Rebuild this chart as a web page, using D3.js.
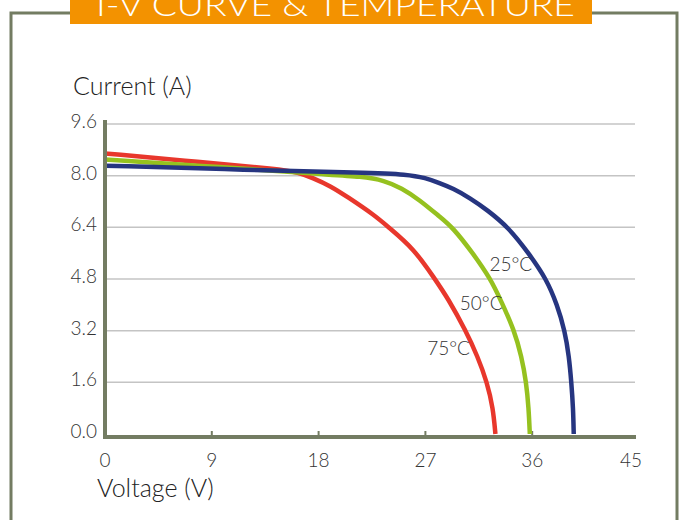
<!DOCTYPE html>
<html><head><meta charset="utf-8">
<script src="https://cdn.jsdelivr.net/npm/d3@7"></script>
<style>
html,body{margin:0;padding:0;background:#fff;}
svg{display:block;}
text{font-family:Lato,"Open Sans","DejaVu Sans",sans-serif;font-weight:300;}
</style></head><body>
<svg id="c" width="684" height="520"></svg>
<script>
const title = "I-V CURVE & TEMPERATURE";
const yTitle = "Current (A)";
const xTitle = "Voltage (V)";
const xTicks = [0, 9, 18, 27, 36, 45];
const yTicks = [0, 1.6, 3.2, 4.8, 6.4, 8.0, 9.6];
const seriesNames = ["25°C", "50°C", "75°C"];
const seriesColors = ["#263580", "#95c11f", "#e8372c"];
const curve25 = [[0,8.31],[12,8.18],[22,8.09],[25.5,8.04],[27,7.93],[28.2,7.77],[29.3,7.61],[30.8,7.3],[32.2,6.94],[34.0,6.4],[35.7,5.6],[37.2,4.8],[38.1,4.0],[38.75,3.2],[39.1,2.4],[39.3,1.6],[39.45,0.8],[39.5,0]];
const curve50 = [[0,8.5],[10,8.26],[18,8.05],[21.8,7.97],[23.5,7.85],[25,7.62],[26.5,7.25],[28.2,6.73],[29.3,6.4],[31.0,5.6],[32.5,4.8],[33.4,4.1],[34.5,3.2],[35.1,2.4],[35.5,1.6],[35.7,0.8],[35.8,0]];
const curve75 = [[0,8.69],[8,8.42],[14.7,8.2],[16.3,8.1],[17.5,7.93],[19,7.68],[20.4,7.35],[22.7,6.78],[23.9,6.4],[26.0,5.75],[27.8,4.8],[28.9,4.2],[30.4,3.2],[31.4,2.4],[32.2,1.6],[32.7,0.8],[32.9,0]];
const labelPos = [[34.2,5.05],[31.7,3.83],[28.95,2.45]];

const svg = d3.select("#c");
const x = d3.scaleLinear().domain([0,45]).range([105,639]);
const y = d3.scaleLinear().domain([0,9.6]).range([434,124]);

// frame
svg.append("rect").attr("x",11).attr("y",13).attr("width",666).attr("height",530)
  .attr("fill","none").attr("stroke","#737c62").attr("stroke-width",3);
// banner
svg.append("rect").attr("x",70).attr("y",-5).attr("width",522).attr("height",29).attr("fill","#f39200");
svg.append("text").attr("x",96).attr("y",16).attr("fill","#fff").attr("font-size",31)
  .attr("textLength",479).attr("lengthAdjust","spacingAndGlyphs").text(title);

// grid
svg.append("g").selectAll("line").data(yTicks.filter(d=>d>0)).join("line")
  .attr("x1",105).attr("x2",635).attr("y1",d=>y(d)).attr("y2",d=>y(d))
  .attr("stroke","#c4c4c4").attr("stroke-width",1.5);

// y tick labels
svg.append("g").selectAll("text").data(yTicks).join("text")
  .attr("x",97).attr("y",d=>y(d)).attr("dy",4).attr("text-anchor","end")
  .attr("font-size",19).attr("fill","#333").text(d=>d.toFixed(1));

// x ticks
svg.append("g").selectAll("line").data(xTicks.filter(d=>d>0&&d<45)).join("line")
  .attr("x1",d=>x(d)).attr("x2",d=>x(d)).attr("y1",431).attr("y2",437)
  .attr("stroke","#737c62").attr("stroke-width",2);
svg.append("g").selectAll("text").data(xTicks).join("text")
  .attr("x",d=>d===45?x(d)-8:x(d)).attr("y",467).attr("text-anchor","middle")
  .attr("font-size",19).attr("fill","#333").text(d=>d);

// curves
const line = d3.line().x(d=>x(d[0])).y(d=>y(d[1])).curve(d3.curveBasis);
const data = [curve75, curve50, curve25];
const cols = [seriesColors[2], seriesColors[1], seriesColors[0]];
svg.append("g").selectAll("path").data(data).join("path")
  .attr("d",line).attr("fill","none").attr("stroke",(d,i)=>cols[i]).attr("stroke-width",4.5)
  .attr("stroke-linecap","butt");

// axes
svg.append("line").attr("x1",105).attr("x2",105).attr("y1",120).attr("y2",439)
  .attr("stroke","#737c62").attr("stroke-width",4);
svg.append("line").attr("x1",103).attr("x2",636).attr("y1",437).attr("y2",437)
  .attr("stroke","#737c62").attr("stroke-width",4);

// series labels
svg.append("g").selectAll("text").data(seriesNames).join("text")
  .attr("x",(d,i)=>x(labelPos[i][0])).attr("y",(d,i)=>y(labelPos[i][1]))
  .attr("text-anchor","middle").attr("font-size",19).attr("fill","#333").text(d=>d);

// axis titles
svg.append("text").attr("x",73).attr("y",95).attr("font-size",25).attr("fill","#222").text(yTitle);
svg.append("text").attr("x",97).attr("y",497).attr("font-size",25).attr("fill","#222").text(xTitle);
</script></body></html>
